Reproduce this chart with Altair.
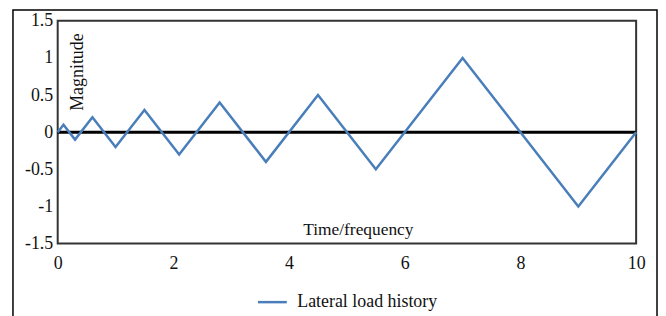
import altair as alt
import pandas as pd

# data
time_vals = [0, 0.1, 0.3, 0.6, 1.0, 1.5, 2.1, 2.8, 3.6, 4.5, 5.5, 7.0, 9.0, 10.0]
magnitude = [0, 0.1, -0.1, 0.2, -0.2, 0.3, -0.3, 0.4, -0.4, 0.5, -0.5, 1.0, -1.0, 0]
series_name = "Lateral load history"
x_ticks = [0, 2, 4, 6, 8, 10]
y_ticks = [-1.5, -1, -0.5, 0, 0.5, 1, 1.5]

FONT = "Liberation Serif"
W, H = 582, 224

df = pd.DataFrame({"t": time_vals, "m": magnitude, "series": [series_name] * len(time_vals)})

xscale = alt.Scale(domain=[0, 10], nice=False, zero=False)
yscale = alt.Scale(domain=[-1.5, 1.5], nice=False, zero=False)

y_axis = alt.Axis(values=y_ticks, title="Magnitude", labelExpr="toString(datum.value)",
                  grid=False, domain=False, ticks=False, labelPadding=5,
                  labelFlush=False, labelOverlap=False, labelBound=False,
                  labelFont=FONT, labelFontSize=18, labelColor="#111",
                  titleFont=FONT, titleFontSize=18, titleFontWeight="normal", titleColor="#111",
                  titleX=25, titleY=51, titleAngle=-90, titleAlign="center",
                  titleBaseline="alphabetic")

line = alt.Chart(df).mark_line(strokeWidth=2.5).encode(
    x=alt.X("t:Q", scale=xscale,
            axis=alt.Axis(values=x_ticks, title="Time/frequency", labelExpr="toString(datum.value)",
                          grid=False, domain=False, ticks=False, labelPadding=11,
                          labelFlush=False, labelOverlap=False, labelBound=False,
                          labelFont=FONT, labelFontSize=18, labelColor="#111",
                          titleFont=FONT, titleFontSize=17.5, titleFontWeight="normal", titleColor="#111",
                          titleX=302, titleY=-9, titleAnchor="middle", titleAlign="center",
                          titleBaseline="alphabetic")),
    y=alt.Y("m:Q", scale=yscale, axis=y_axis),
    color=alt.Color("series:N", scale=alt.Scale(range=["#4a7ebb"]),
                    legend=alt.Legend(orient="none", legendX=200, legendY=267, title=None,
                                      symbolType="stroke", symbolSize=841, symbolStrokeWidth=2.5,
                                      labelFont=FONT, labelFontSize=18, labelColor="#111",
                                      labelOffset=9, padding=0)),
)

zero = alt.Chart(pd.DataFrame({"z": [0]})).mark_rule(color="black", strokeWidth=3).encode(
    y=alt.Y("z:Q", scale=yscale, axis=y_axis), x=alt.value(0), x2=alt.value(W)
)

frame = alt.Chart(pd.DataFrame({"f": [0]})).mark_rect(
    fillOpacity=0, stroke="black", strokeWidth=1.5
).encode(x=alt.value(-45), x2=alt.value(603), y=alt.value(-11), y2=alt.value(330))

chart = alt.layer(frame, zero, line).properties(
    width=W, height=H,
    background="white",
    autosize=alt.AutoSizeParams(type="none"),
    padding={"left": 50, "top": 12, "right": 22, "bottom": 72},
).configure_view(stroke="#333", strokeWidth=2)

chart.save("out.html", embed_options={"renderer": "svg", "actions": False})
